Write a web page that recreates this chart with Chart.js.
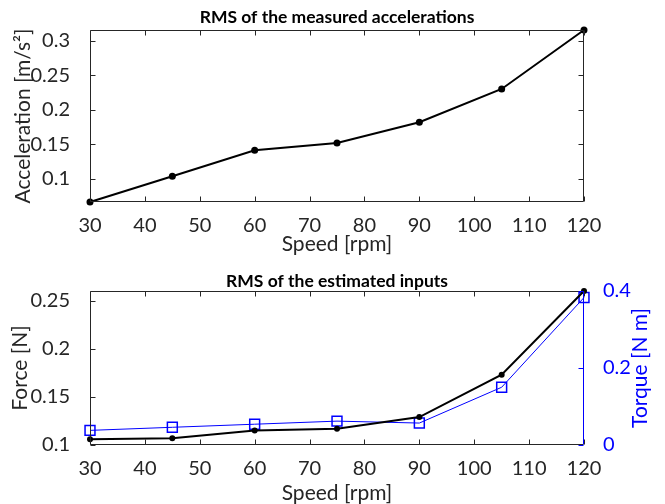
<!DOCTYPE html>
<html>
<head>
<meta charset="utf-8">
<script src="https://cdn.jsdelivr.net/npm/chart.js@4"></script>
<style>
    html, body { margin: 0; padding: 0; background: #fff; }
    .box { position: absolute; left: 0; width: 665px; }
</style>
</head>
<body>
<div class="box" style="top:0;height:255px"><canvas id="accChart" width="665" height="255"></canvas></div>
<div class="box" style="top:255px;height:249px"><canvas id="inputChart" width="665" height="249"></canvas></div>
<script>
const speeds = [30, 45, 60, 75, 90, 105, 120];
const accelRms = [0.066, 0.1034, 0.141, 0.1515, 0.1818, 0.230, 0.3156];
const forceRms = [0.106, 0.107, 0.115, 0.117, 0.129, 0.173, 0.26];
const torqueRms = [0.038, 0.046, 0.054, 0.062, 0.057, 0.15, 0.383];

const speedTicks = [30, 40, 50, 60, 70, 80, 90, 100, 110, 120];
const accelTicks = [0.1, 0.15, 0.2, 0.25, 0.3];
const forceTicks = [0.1, 0.15, 0.2, 0.25];
const torqueTicks = [0, 0.2, 0.4];

const FONT = 'Lato, "Open Sans", sans-serif';
const AX = "#262626";
const BLUE = "#0000ff";

function toPoints(ys) {
    return speeds.map((s, i) => ({ x: s, y: ys[i] }));
}

function setTicks(list) {
    return (scale) => { scale.ticks = list.map(v => ({ value: v })); };
}

function fixSize(prop, size) {
    return (scale) => { scale[prop] = size; };
}

// box, inward tick marks and all titles (matlab style)
function decorations(cfg) {
    return {
        id: "decor",
        afterDraw(chart) {
            const { ctx, chartArea: a, scales } = chart;
            const L = Math.round(a.left) + 0.5, R = Math.round(a.right) - 0.5;
            const T = Math.round(a.top) + 0.5, B = Math.round(a.bottom) - 0.5;
            ctx.save();
            ctx.lineWidth = 1;

            ctx.strokeStyle = AX;
            ctx.beginPath();
            scales.x.ticks.forEach(t => {
                const px = Math.round(scales.x.getPixelForValue(t.value)) + 0.5;
                ctx.moveTo(px, B); ctx.lineTo(px, B - 5);
                ctx.moveTo(px, T); ctx.lineTo(px, T + 5);
            });
            scales.y.ticks.forEach(t => {
                const py = Math.round(scales.y.getPixelForValue(t.value)) + 0.5;
                ctx.moveTo(L, py); ctx.lineTo(L + 5, py);
                if (!cfg.rightAxis) { ctx.moveTo(R, py); ctx.lineTo(R - 5, py); }
            });
            ctx.moveTo(L, T); ctx.lineTo(R, T);
            ctx.moveTo(L, T); ctx.lineTo(L, B);
            ctx.moveTo(L, B); ctx.lineTo(R, B);
            if (!cfg.rightAxis) { ctx.moveTo(R, T); ctx.lineTo(R, B); }
            ctx.stroke();

            if (cfg.rightAxis) {
                const s = scales.y1;
                ctx.strokeStyle = BLUE;
                ctx.beginPath();
                ctx.moveTo(R, T); ctx.lineTo(R, B);
                s.ticks.forEach(t => {
                    const py = Math.round(s.getPixelForValue(t.value)) + 0.5;
                    ctx.moveTo(R, py); ctx.lineTo(R - 5, py);
                });
                ctx.stroke();
            }

            const cx = (a.left + a.right) / 2;
            const cy = (a.top + a.bottom) / 2;
            ctx.textAlign = "center";
            ctx.textBaseline = "middle";
            ctx.fillStyle = "#000";
            ctx.font = "bold 17.5px " + FONT;
            ctx.fillText(cfg.title, cx, cfg.titleY);

            ctx.fillStyle = AX;
            ctx.font = "21px " + FONT;
            ctx.fillText("Speed [rpm]", cx, cfg.xTitleY);

            ctx.save();
            ctx.translate(cfg.yTitleX, cy);
            ctx.rotate(-Math.PI / 2);
            ctx.fillText(cfg.yTitle, 0, 0);
            ctx.restore();

            if (cfg.rightAxis) {
                ctx.save();
                ctx.fillStyle = BLUE;
                ctx.translate(cfg.y1TitleX, cy);
                ctx.rotate(-Math.PI / 2);
                ctx.fillText(cfg.y1Title, 0, 0);
                ctx.restore();
            }
            ctx.restore();
        }
    };
}

const tickFont = { family: FONT, size: 20 };
const plainLabel = (v) => String(Number(v));

const xScale = (height) => ({
    type: "linear",
    min: 30,
    max: 120,
    grid: { display: false },
    border: { display: false },
    afterBuildTicks: setTicks(speedTicks),
    afterFit: fixSize("height", height),
    ticks: { color: AX, font: tickFont, padding: 4, maxRotation: 0, autoSkip: false, callback: plainLabel }
});

const accChart = new Chart(document.getElementById("accChart"), {
    type: "line",
    data: {
        datasets: [{
            data: toPoints(accelRms),
            borderColor: "#000",
            backgroundColor: "#000",
            borderWidth: 2,
            pointRadius: 3.5,
            pointBackgroundColor: "#000",
            pointBorderWidth: 0,
            tension: 0,
            clip: false
        }]
    },
    options: {
        responsive: false,
        animation: false,
        events: [],
        layout: { padding: { top: 30, right: 81, left: 0, bottom: 0 } },
        plugins: { legend: { display: false }, tooltip: { enabled: false } },
        scales: {
            x: xScale(53),
            y: {
                min: 0.066,
                max: 0.3156,
                grid: { display: false },
                border: { display: false },
                afterBuildTicks: setTicks(accelTicks),
                afterFit: fixSize("width", 90),
                ticks: { color: AX, font: tickFont, padding: 12, callback: plainLabel }
            }
        }
    },
    plugins: [decorations({
        title: "RMS of the measured accelerations",
        titleY: 17,
        xTitleY: 244,
        yTitle: "Acceleration [m/s²]",
        yTitleX: 23
    })]
});

const inputChart = new Chart(document.getElementById("inputChart"), {
    type: "line",
    data: {
        datasets: [{
            data: toPoints(forceRms),
            yAxisID: "y",
            borderColor: "#000",
            backgroundColor: "#000",
            borderWidth: 2,
            pointRadius: 3,
            pointBackgroundColor: "#000",
            pointBorderWidth: 0,
            tension: 0,
            clip: false
        }, {
            data: toPoints(torqueRms),
            yAxisID: "y1",
            borderColor: BLUE,
            backgroundColor: "rgba(0,0,0,0)",
            borderWidth: 1,
            pointStyle: "rect",
            pointRadius: 7,
            pointBorderWidth: 1.5,
            pointBorderColor: BLUE,
            pointBackgroundColor: "rgba(0,0,0,0)",
            tension: 0,
            clip: false
        }]
    },
    options: {
        responsive: false,
        animation: false,
        events: [],
        layout: { padding: { top: 36, right: 0, left: 0, bottom: 0 } },
        plugins: { legend: { display: false }, tooltip: { enabled: false } },
        scales: {
            x: xScale(59),
            y: {
                position: "left",
                min: 0.1,
                max: 0.26,
                grid: { display: false },
                border: { display: false },
                afterBuildTicks: setTicks(forceTicks),
                afterFit: fixSize("width", 90),
                ticks: { color: AX, font: tickFont, padding: 12, callback: plainLabel }
            },
            y1: {
                position: "right",
                min: 0,
                max: 0.4,
                grid: { display: false },
                border: { display: false },
                afterBuildTicks: setTicks(torqueTicks),
                afterFit: fixSize("width", 81),
                ticks: { color: BLUE, font: tickFont, padding: 11, callback: plainLabel }
            }
        }
    },
    plugins: [decorations({
        title: "RMS of the estimated inputs",
        titleY: 26,
        xTitleY: 238,
        yTitle: "Force [N]",
        yTitleX: 20,
        rightAxis: true,
        y1Title: "Torque [N m]",
        y1TitleX: 640
    })]
});
</script>
</body>
</html>
